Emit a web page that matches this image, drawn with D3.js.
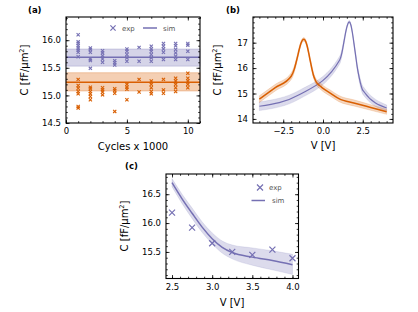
<!DOCTYPE html>
<html>
<head>
<meta charset="utf-8">
<script src="https://cdn.jsdelivr.net/npm/d3@7"></script>
<style>
body{margin:0;background:#fff;}
svg{font-family:"DejaVu Sans",sans-serif;display:block;}
</style>
</head>
<body>
<svg id="chart" width="418" height="312"></svg>
<script>
// ---- data ----
const purple = "#7570b3";
const orange = "#d95f02";

// (a) cycling test
const cycles = [1,2,3,4,5,6,7,8,9,10];
const expHigh = [
  [16.10,15.97,15.94,15.90,15.86,15.82,15.78,15.70],
  [15.86,15.83,15.78,15.66,15.63,15.49],
  [15.81,15.77,15.72,15.66,15.60],
  [15.63,15.59,15.55],
  [15.84,15.80,15.74,15.68,15.62],
  [15.87,15.62],
  [15.89,15.84,15.80,15.74,15.68,15.62],
  [15.94,15.89,15.84,15.78,15.65],
  [15.94,15.90,15.83,15.77,15.71,15.65],
  [15.94,15.91,15.80,15.65]
];
const expLow = [
  [15.29,15.18,15.13,15.07,15.03,14.80,14.77],
  [15.15,15.12,15.07,15.03,14.98,14.92],
  [15.14,15.10,15.06,15.01],
  [15.12,15.09,15.04,14.71],
  [15.20,15.15,15.11,14.92],
  [15.29,15.06],
  [15.26,15.20,15.14,15.07,15.03],
  [15.29,15.10,15.04],
  [15.31,15.26,15.20,15.14,15.07],
  [15.40,15.31,15.26,15.20,15.14]
];
const simHigh = {mean:15.69, lo:15.53, hi:15.84};
const simLow = {mean:15.24, lo:15.08, hi:15.41};

// (b) C-V sweep
const vOrange = [-4.0,-3.0,-2.0,-1.8,-1.7,-1.6,-1.5,-1.4,-1.3,-1.2,-1.1,-1.0,-0.9,-0.8,-0.7,-0.6,-0.5,-0.4,-0.3,-0.15,0.0,0.5,1.0,2.0,3.0,4.0];
const cOrange = [14.78,15.23,15.68,15.97,16.20,16.45,16.72,16.95,17.09,17.13,17.06,16.88,16.60,16.28,15.98,15.72,15.55,15.43,15.36,15.28,15.20,15.00,14.80,14.62,14.45,14.28];
const sOrange = [0.13,0.13,0.13,0.12,0.11,0.10,0.09,0.08,0.07,0.07,0.07,0.08,0.08,0.09,0.10,0.10,0.11,0.11,0.12,0.12,0.12,0.12,0.12,0.12,0.11,0.10];
const vPurple = [-4.0,-1.5,1.05,1.15,1.25,1.35,1.45,1.55,1.65,1.75,1.85,1.95,2.05,2.15,2.25,2.35,2.45,2.6,4.0];
const cPurple = [14.50,14.95,16.32,16.50,16.80,17.15,17.48,17.72,17.82,17.70,17.38,16.95,16.50,16.05,15.70,15.42,15.20,15.05,14.43];
const sPurple = [0.17,0.17,0.15,0.13,0.11,0.09,0.07,0.06,0.05,0.06,0.07,0.08,0.10,0.11,0.13,0.14,0.15,0.16,0.12];

// (c) voltage dependence
const vExp = [2.5,2.75,3.0,3.25,3.5,3.75,4.0];
const cExp = [16.18,15.92,15.65,15.50,15.45,15.54,15.39];
const vSim = [2.5,2.625,2.75,2.875,3.0,3.125,3.25,3.5,3.75,4.0];
const cSim = [16.70,16.42,16.17,15.93,15.73,15.58,15.49,15.41,15.35,15.28];
const cSimLo = [16.63,16.34,16.08,15.84,15.64,15.48,15.38,15.27,15.19,15.11];
const cSimHi = [16.77,16.50,16.26,16.02,15.83,15.69,15.62,15.57,15.52,15.46];

// ---- helpers ----
const svg = d3.select("#chart");
const tickFont = 8.5, labelFont = 10;

function frame(x, y, major, minor)
{
  const [x0,x1] = x.range(), [y1,y0] = y.range();
  const g = svg.append("g");
  const mk = (axis, tr, vals, size, fmt, pad) => {
    const a = g.append("g").attr("transform", tr)
      .call(axis.tickValues(vals).tickSizeInner(-size).tickSizeOuter(0).tickPadding(pad).tickFormat(fmt));
    a.select(".domain").remove();
    a.selectAll("line").attr("stroke","#000").attr("stroke-width",0.8);
    a.selectAll("text").attr("font-size",tickFont).attr("fill","#000").attr("font-family","DejaVu Sans");
    return a;
  };
  const none = () => "";
  mk(d3.axisBottom(x), `translate(0,${y1})`, major.x, 3.5, major.xf, 5);
  mk(d3.axisBottom(x), `translate(0,${y1})`, minor.x, 1.8, none, 0);
  mk(d3.axisTop(x), `translate(0,${y0})`, major.x, 3.5, none, 0);
  mk(d3.axisTop(x), `translate(0,${y0})`, minor.x, 1.8, none, 0);
  mk(d3.axisLeft(y), `translate(${x0},0)`, major.y, 3.5, major.yf, 5);
  mk(d3.axisLeft(y), `translate(${x0},0)`, minor.y, 1.8, none, 0);
  mk(d3.axisRight(y), `translate(${x1},0)`, major.y, 3.5, none, 0);
  mk(d3.axisRight(y), `translate(${x1},0)`, minor.y, 1.8, none, 0);
  g.append("rect").attr("x",x0).attr("y",y0).attr("width",x1-x0).attr("height",y1-y0)
    .attr("fill","none").attr("stroke","#000").attr("stroke-width",1.1);
}

function steps(a, b, s)
{
  const out = [];
  for (let v = a; v <= b + 1e-9; v += s) out.push(+v.toFixed(4));
  return out;
}

function cross(g, px, py, s, color, w)
{
  g.append("path").attr("d",`M${px-s},${py-s}L${px+s},${py+s}M${px-s},${py+s}L${px+s},${py-s}`)
    .attr("stroke",color).attr("stroke-width",w).attr("fill","none");
}

function ylabel(cx, cy)
{
  const t = svg.append("text").attr("transform",`translate(${cx},${cy}) rotate(-90)`)
    .attr("text-anchor","middle").attr("font-size",labelFont);
  t.append("tspan").text("C [fF/μm");
  t.append("tspan").text("2").attr("font-size",6.5).attr("dy",-4);
  t.append("tspan").text("]").attr("dy",4);
}

function xlabel(cx, cy, txt)
{
  svg.append("text").attr("x",cx).attr("y",cy).attr("text-anchor","middle")
    .attr("font-size",labelFont).text(txt);
}

function panelTag(px, py, txt)
{
  svg.append("text").attr("x",px).attr("y",py).attr("font-size",8.5)
    .attr("font-weight","bold").text(txt);
}

function legend(px, py, color, ms)
{
  const g = svg.append("g");
  cross(g, px, py, ms, color, 1.2);
  g.append("text").attr("x",px+9).attr("y",py+2.5).attr("font-size",7).attr("fill","#555").text("exp");
  return g;
}

// ---- panel (a) ----
{
  const x = d3.scaleLinear().domain([0,11]).range([66,200]);
  const y = d3.scaleLinear().domain([14.5,16.42]).range([123,17]);
  const g = svg.append("g");
  [[simHigh,purple],[simLow,orange]].forEach(([s,c]) => {
    g.append("rect").attr("x",x(0)).attr("width",x(11)-x(0))
      .attr("y",y(s.hi)).attr("height",y(s.lo)-y(s.hi))
      .attr("fill",c).attr("fill-opacity",0.3).attr("stroke",c).attr("stroke-opacity",0.35).attr("stroke-width",0.8);
    g.append("line").attr("x1",x(0)).attr("x2",x(11)).attr("y1",y(s.mean)).attr("y2",y(s.mean))
      .attr("stroke",c).attr("stroke-width",1.5);
  });
  cycles.forEach((cy,i) => {
    expHigh[i].forEach(v => cross(g, x(cy), y(v), 1.6, purple, 1.1));
    expLow[i].forEach(v => cross(g, x(cy), y(v), 1.6, orange, 1.1));
  });
  frame(x, y, {x:[0,5,10], xf:d3.format("d"), y:[14.5,15,15.5,16], yf:d3.format(".1f")},
    {x:steps(0,11,1), y:steps(14.5,16.4,0.1)});
  const lg = legend(113, 28, purple, 2.6);
  lg.append("line").attr("x1",143).attr("x2",157).attr("y1",28).attr("y2",28).attr("stroke",purple).attr("stroke-width",1.5);
  lg.append("text").attr("x",163).attr("y",30.5).attr("font-size",7).attr("fill","#555").text("sim");
  ylabel(28, 70);
  xlabel(133, 150, "Cycles x 1000");
  panelTag(28, 13, "(a)");
}

// ---- panel (b) ----
{
  const x = d3.scaleLinear().domain([-4.4,4.4]).range([253,393]);
  const y = d3.scaleLinear().domain([13.84,18.01]).range([123,17]);
  const g = svg.append("g");
  const series = [
    {v:vPurple, c:cPurple, s:sPurple, col:purple, w:1.2},
    {v:vOrange, c:cOrange, s:sOrange, col:orange, w:1.5}
  ];
  series.forEach(sr => {
    const pts = sr.v.map((v,i) => ({v, c:sr.c[i], s:sr.s[i]}));
    g.append("path").datum(pts)
      .attr("d", d3.area().x(d => x(d.v)).y0(d => y(d.c - d.s)).y1(d => y(d.c + d.s)).curve(d3.curveMonotoneX))
      .attr("fill",sr.col).attr("fill-opacity",0.25).attr("stroke",sr.col).attr("stroke-opacity",0.2).attr("stroke-width",0.8);
    g.append("path").datum(pts)
      .attr("d", d3.line().x(d => x(d.v)).y(d => y(d.c)).curve(d3.curveMonotoneX))
      .attr("fill","none").attr("stroke",sr.col).attr("stroke-width",sr.w);
  });
  frame(x, y, {x:[-2.5,0,2.5], xf:d3.format(".1f"), y:[14,15,16,17], yf:d3.format("d")},
    {x:steps(-4,4,0.5), y:steps(14,18,0.2)});
  ylabel(221, 70);
  xlabel(323, 149, "V [V]");
  panelTag(226, 13, "(b)");
}

// ---- panel (c) ----
{
  const x = d3.scaleLinear().domain([2.425,4.075]).range([166,298.5]);
  const y = d3.scaleLinear().domain([15.04,16.85]).range([278.5,174]);
  const g = svg.append("g");
  const pts = vSim.map((v,i) => ({v, c:cSim[i], lo:cSimLo[i], hi:cSimHi[i]}));
  g.append("path").datum(pts)
    .attr("d", d3.area().x(d => x(d.v)).y0(d => y(d.lo)).y1(d => y(d.hi)).curve(d3.curveMonotoneX))
    .attr("fill",purple).attr("fill-opacity",0.25).attr("stroke",purple).attr("stroke-opacity",0.2).attr("stroke-width",0.8);
  g.append("path").datum(pts)
    .attr("d", d3.line().x(d => x(d.v)).y(d => y(d.c)).curve(d3.curveMonotoneX))
    .attr("fill","none").attr("stroke",purple).attr("stroke-width",1.5);
  vExp.forEach((v,i) => cross(g, x(v), y(cExp[i]), 3, purple, 1.2));
  frame(x, y, {x:[2.5,3,3.5,4], xf:d3.format(".1f"), y:[15.5,16,16.5], yf:d3.format(".1f")},
    {x:steps(2.5,4,0.1), y:steps(15.1,16.8,0.1)});
  const lg = legend(260, 187.5, purple, 3);
  lg.append("line").attr("x1",251.5).attr("x2",265).attr("y1",200.5).attr("y2",200.5).attr("stroke",purple).attr("stroke-width",1.5);
  lg.append("text").attr("x",272).attr("y",203).attr("font-size",7).attr("fill","#555").text("sim");
  ylabel(128, 226);
  xlabel(232, 306, "V [V]");
  panelTag(125, 169, "(c)");
}
</script>
</body>
</html>
